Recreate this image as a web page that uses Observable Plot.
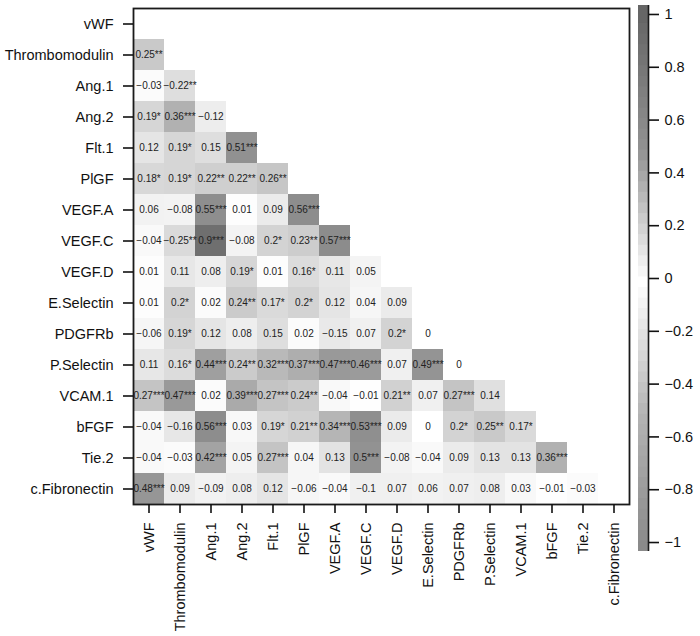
<!DOCTYPE html>
<html>
<head>
<meta charset="utf-8">
<script src="https://cdn.jsdelivr.net/npm/d3@7"></script>
<script src="https://cdn.jsdelivr.net/npm/@observablehq/plot@0.6"></script>
<style>
  html, body { margin: 0; padding: 0; background: #fff; }
  #wrap { position: relative; width: 700px; height: 636px; overflow: hidden; font-family: "Liberation Sans", Arial, sans-serif; }
  #main { position: absolute; left: 0; top: 0; }
  #bar { position: absolute; left: 638px; top: 0; }
</style>
</head>
<body>
<div id="wrap"><div id="main"></div><div id="bar"></div></div>
<script>
const vars = ["vWF","Thrombomodulin","Ang.1","Ang.2","Flt.1","PlGF","VEGF.A","VEGF.C","VEGF.D","E.Selectin","PDGFRb","P.Selectin","VCAM.1","bFGF","Tie.2","c.Fibronectin"];

// lower-triangle correlation values, row i holds columns 0..i-1
const corr = [
  [],
  [0.25],
  [-0.03, -0.22],
  [0.19, 0.36, -0.12],
  [0.12, 0.19, 0.15, 0.51],
  [0.18, 0.19, 0.22, 0.22, 0.26],
  [0.06, -0.08, 0.55, 0.01, 0.09, 0.56],
  [-0.04, -0.25, 0.9, -0.08, 0.2, 0.23, 0.57],
  [0.01, 0.11, 0.08, 0.19, 0.01, 0.16, 0.11, 0.05],
  [0.01, 0.2, 0.02, 0.24, 0.17, 0.2, 0.12, 0.04, 0.09],
  [-0.06, 0.19, 0.12, 0.08, 0.15, 0.02, -0.15, 0.07, 0.2, 0],
  [0.11, 0.16, 0.44, 0.24, 0.32, 0.37, 0.47, 0.46, 0.07, 0.49, 0],
  [0.27, 0.47, 0.02, 0.39, 0.27, 0.24, -0.04, -0.01, 0.21, 0.07, 0.27, 0.14],
  [-0.04, -0.16, 0.56, 0.03, 0.19, 0.21, 0.34, 0.53, 0.09, 0, 0.2, 0.25, 0.17],
  [-0.04, -0.03, 0.42, 0.05, 0.27, 0.04, 0.13, 0.5, -0.08, -0.04, 0.09, 0.13, 0.13, 0.36],
  [0.48, 0.09, -0.09, 0.08, 0.12, -0.06, -0.04, -0.1, 0.07, 0.06, 0.07, 0.08, 0.03, -0.01, -0.03]
];

// significance stars, same layout
const stars = [
  [],
  ["**"],
  ["", "**"],
  ["*", "***", ""],
  ["", "*", "", "***"],
  ["*", "*", "**", "**", "**"],
  ["", "", "***", "", "", "***"],
  ["", "**", "***", "", "*", "**", "***"],
  ["", "", "", "*", "", "*", "", ""],
  ["", "*", "", "**", "*", "*", "", "", ""],
  ["", "*", "", "", "", "", "", "", "*", ""],
  ["", "*", "***", "**", "***", "***", "***", "***", "", "***", ""],
  ["***", "***", "", "***", "***", "**", "", "", "**", "", "***", ""],
  ["", "", "***", "", "*", "**", "***", "***", "", "", "*", "**", "*"],
  ["", "", "***", "", "***", "", "", "***", "", "", "", "", "", "***"],
  ["***", "", "", "", "", "", "", "", "", "", "", "", "", "", ""]
];

const colorTicks = [-1, -0.8, -0.6, -0.4, -0.2, 0, 0.2, 0.4, 0.6, 0.8, 1];

const fmt = v => (v < 0 ? "\u2212" : "") + String(Math.abs(v));

const cells = corr.flatMap((vals, i) => vals.map((v, j) => ({
  row: vars[i], col: vars[j], r: v, label: fmt(v) + stars[i][j]
})));

const colorScale = {
  type: "linear",
  domain: [-1, -0.5, 0, 0.5, 1],
  range: ["#8a8a8a", "#b4b4b4", "#ffffff", "#929292", "#666666"]
};

const main = Plot.plot({
  width: 636,
  height: 636,
  marginLeft: 133,
  marginRight: 7,
  marginTop: 8,
  marginBottom: 132,
  style: { fontFamily: "'Liberation Sans', Arial, sans-serif", color: "#111", background: "#fff" },
  x: { domain: vars, padding: 0, label: null },
  y: { domain: vars, padding: 0, label: null },
  color: colorScale,
  marks: [
    Plot.cell(cells, { x: "col", y: "row", fill: "r", inset: 0 }),
    Plot.text(cells, { x: "col", y: "row", text: "label", fontSize: 10, fill: "#222" }),
    Plot.frame({ stroke: "#1a1a1a", strokeWidth: 1.8 }),
    Plot.axisY({ tickSize: 10, tickPadding: 10, fontSize: 14.5, strokeWidth: 1.6, label: null }),
    Plot.axisX({ tickSize: 9, tickPadding: 9, tickRotate: -90, fontSize: 14.5, strokeWidth: 1.6, label: null })
  ]
});
document.getElementById("main").appendChild(main);

// color bar
const bands = d3.range(-1, 1.0001, 0.04).map(v => ({ v }));
const bar = Plot.plot({
  width: 62,
  height: 560,
  marginLeft: 0,
  marginRight: 52,
  marginTop: 5,
  marginBottom: 9,
  style: { fontFamily: "'Liberation Sans', Arial, sans-serif", color: "#111", background: "transparent" },
  x: { domain: [0, 1], axis: null },
  y: { domain: [-1.034, 1.034], label: null },
  color: colorScale,
  marks: [
    Plot.rect(bands, { x1: 0, x2: 1, y1: d => d.v - 0.034, y2: d => d.v + 0.034, fill: "v" }),
    Plot.ruleX([1], { stroke: "#1a1a1a", strokeWidth: 1.6 }),
    Plot.axisY(colorTicks, { anchor: "right", tickSize: 10, tickPadding: 6, fontSize: 14.5, strokeWidth: 1.6, tickFormat: fmt, label: null })
  ]
});
document.getElementById("bar").appendChild(bar);
</script>
</body>
</html>
